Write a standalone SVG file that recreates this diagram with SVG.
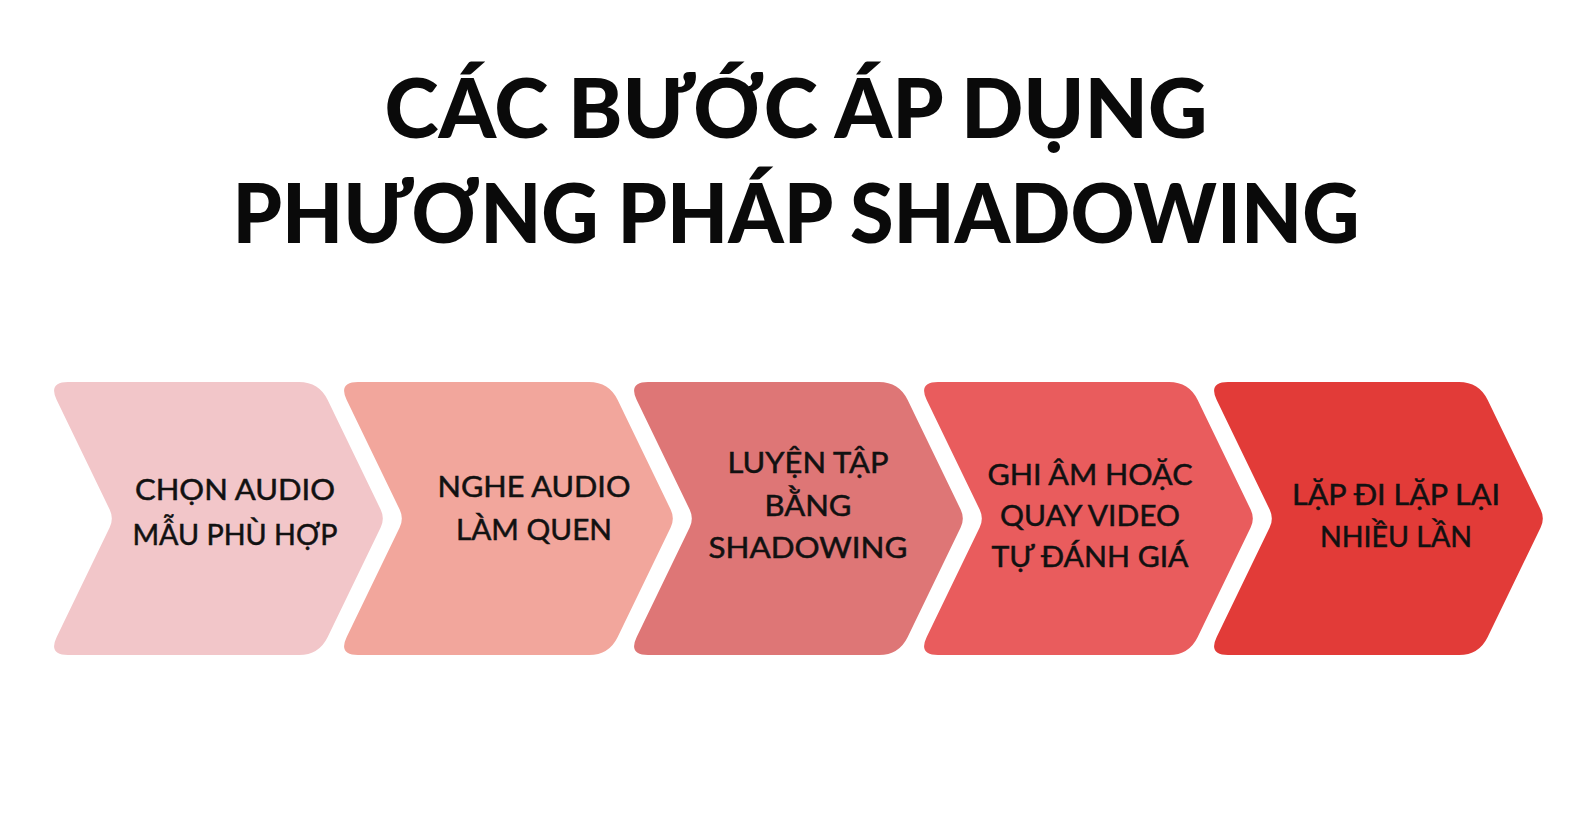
<svg xmlns="http://www.w3.org/2000/svg" xmlns:xlink="http://www.w3.org/1999/xlink" width="1592" height="830" viewBox="0 0 1592 830">
  <style>
    .title { font-family: "Lato", "Liberation Sans", sans-serif; font-weight: 900; font-size: 81px; fill: #0a0a0a; text-anchor: middle; }
    .lbl { font-family: "Lato", "Liberation Sans", sans-serif; font-weight: 400; font-size: 28px; fill: #111111; stroke: #111111; stroke-width: 0.5px; text-anchor: middle; }
  </style>
  <defs>
    <path id="chev" d="M 20,382 H 251 Q 271,382 279.7,400 L 332.65,509.5 Q 337,518.5 332.65,527.5 L 279.7,637 Q 271,655 251,655 H 20 Q 0,655 8.7,637 L 61.65,527.5 Q 66,518.5 61.65,509.5 L 8.7,400 Q 0,382 20,382 Z"/>
  </defs>
  <rect width="1592" height="830" fill="#ffffff"/>

  <g id="title">
    <text class="title" x="796" y="138" textLength="823" lengthAdjust="spacingAndGlyphs">CÁC BƯỚC ÁP DỤNG</text>
    <text class="title" x="796" y="243" textLength="1127" lengthAdjust="spacingAndGlyphs">PHƯƠNG PHÁP SHADOWING</text>
  </g>

  <g id="step1">
    <use xlink:href="#chev" href="#chev" x="48" fill="#F2C6C9"/>
    <text class="lbl" x="235" y="500" textLength="200" lengthAdjust="spacingAndGlyphs">CHỌN AUDIO</text>
    <text class="lbl" x="235" y="545" textLength="205" lengthAdjust="spacingAndGlyphs">MẪU PHÙ HỢP</text>
  </g>

  <g id="step2">
    <use xlink:href="#chev" href="#chev" x="338" fill="#F2A69C"/>
    <text class="lbl" x="534" y="497" textLength="193" lengthAdjust="spacingAndGlyphs">NGHE AUDIO</text>
    <text class="lbl" x="534" y="540" textLength="156" lengthAdjust="spacingAndGlyphs">LÀM QUEN</text>
  </g>

  <g id="step3">
    <use xlink:href="#chev" href="#chev" x="628" fill="#DE7676"/>
    <text class="lbl" x="808" y="473" textLength="161" lengthAdjust="spacingAndGlyphs">LUYỆN TẬP</text>
    <text class="lbl" x="808" y="516" textLength="87" lengthAdjust="spacingAndGlyphs">BẰNG</text>
    <text class="lbl" x="808" y="558" textLength="199" lengthAdjust="spacingAndGlyphs">SHADOWING</text>
  </g>

  <g id="step4">
    <use xlink:href="#chev" href="#chev" x="918" fill="#E95C5D"/>
    <text class="lbl" x="1090" y="485" textLength="205" lengthAdjust="spacingAndGlyphs">GHI ÂM HOẶC</text>
    <text class="lbl" x="1090" y="526" textLength="180" lengthAdjust="spacingAndGlyphs">QUAY VIDEO</text>
    <text class="lbl" x="1090" y="567" textLength="197" lengthAdjust="spacingAndGlyphs">TỰ ĐÁNH GIÁ</text>
  </g>

  <g id="step5">
    <use xlink:href="#chev" href="#chev" x="1208" fill="#E23B38"/>
    <text class="lbl" x="1396" y="505" textLength="208" lengthAdjust="spacingAndGlyphs">LẶP ĐI LẶP LẠI</text>
    <text class="lbl" x="1396" y="547" textLength="152" lengthAdjust="spacingAndGlyphs">NHIỀU LẦN</text>
  </g>
</svg>
